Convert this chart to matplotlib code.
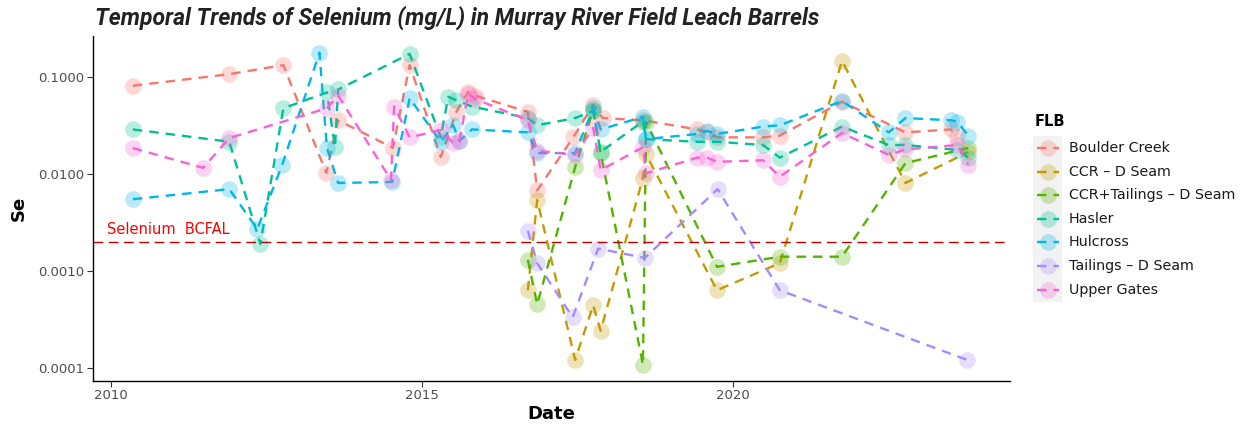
import matplotlib
matplotlib.use("Agg")
import matplotlib.pyplot as plt
from matplotlib.lines import Line2D
from matplotlib.patches import Rectangle
from matplotlib.colors import to_rgba

# --- data (decimal year, Se mg/L) ---
boulder_x = [2010.35, 2011.9, 2012.77, 2013.46, 2013.65, 2014.53, 2014.8, 2015.3, 2015.55, 2015.74, 2015.85,
             2016.7, 2016.85, 2017.43, 2017.75, 2017.9, 2018.55, 2019.42, 2019.58, 2019.74, 2020.48, 2020.75,
             2021.75, 2022.77, 2023.5, 2023.6]
boulder_y = [0.082, 0.108, 0.134, 0.0103, 0.036, 0.0187, 0.134, 0.015, 0.044, 0.071, 0.065,
             0.044, 0.0068, 0.024, 0.052, 0.038, 0.036, 0.029, 0.027, 0.024, 0.024, 0.025,
             0.056, 0.027, 0.029, 0.024]

ccr_x = [2016.7, 2016.85, 2017.46, 2017.75, 2017.87, 2018.55, 2018.6, 2019.74, 2020.75, 2021.75, 2022.77, 2023.78]
ccr_y = [0.00063, 0.0054, 0.00012, 0.00044, 0.00024, 0.0091, 0.016, 0.00063, 0.0012, 0.148, 0.0081, 0.0169]

ccrt_x = [2016.7, 2016.85, 2017.46, 2017.75, 2017.87, 2018.55, 2018.6, 2019.74, 2020.75, 2021.75, 2022.77, 2023.78]
ccrt_y = [0.0013, 0.00045, 0.0118, 0.046, 0.0165, 0.000107, 0.0346, 0.0011, 0.0014, 0.0014, 0.013, 0.0186]

hasler_x = [2010.35, 2011.9, 2012.4, 2012.77, 2013.47, 2013.6, 2013.65, 2014.8, 2015.3, 2015.42, 2015.55,
            2015.8, 2016.7, 2016.85, 2017.46, 2017.75, 2017.87, 2018.55, 2018.6, 2019.42, 2019.74, 2020.48,
            2020.75, 2021.75, 2022.5, 2022.77, 2023.6, 2023.78]
hasler_y = [0.029, 0.0216, 0.0019, 0.048, 0.07, 0.019, 0.075, 0.175, 0.024, 0.063, 0.058,
            0.05, 0.038, 0.032, 0.038, 0.045, 0.017, 0.035, 0.023, 0.0216, 0.0216, 0.02,
            0.0148, 0.031, 0.02, 0.02, 0.0178, 0.0148]

hulcross_x = [2010.35, 2011.9, 2012.35, 2012.75, 2013.35, 2013.47, 2013.65, 2014.52, 2014.8, 2015.3, 2015.5,
              2015.6, 2015.8, 2016.7, 2016.85, 2017.46, 2017.75, 2017.87, 2018.55, 2018.6, 2019.42, 2019.58,
              2019.74, 2020.48, 2020.75, 2021.75, 2022.5, 2022.77, 2023.5, 2023.6, 2023.78]
hulcross_y = [0.0055, 0.0070, 0.0027, 0.0124, 0.18, 0.0187, 0.0081, 0.0083, 0.061, 0.0215, 0.032,
              0.022, 0.029, 0.027, 0.0165, 0.0165, 0.048, 0.029, 0.039, 0.023, 0.026, 0.028,
              0.026, 0.031, 0.032, 0.057, 0.027, 0.038, 0.036, 0.035, 0.025]

tailings_x = [2016.7, 2016.85, 2017.42, 2017.83, 2018.58, 2019.75, 2020.75, 2023.76]
tailings_y = [0.0026, 0.0012, 0.00033, 0.0017, 0.00136, 0.0070, 0.00063, 0.00012]

upper_x = [2010.35, 2011.48, 2011.9, 2013.47, 2013.65, 2014.5, 2014.55, 2014.8, 2015.3, 2015.5, 2015.6,
           2015.74, 2015.85, 2016.7, 2016.85, 2017.46, 2017.75, 2017.87, 2018.55, 2018.6, 2019.42, 2019.58,
           2019.74, 2020.48, 2020.75, 2021.75, 2022.5, 2022.77, 2023.6, 2023.78]
upper_y = [0.0186, 0.0116, 0.0236, 0.048, 0.065, 0.0087, 0.05, 0.024, 0.0285, 0.021, 0.022,
           0.068, 0.06, 0.036, 0.0175, 0.0158, 0.03, 0.011, 0.019, 0.0102, 0.0148, 0.0148,
           0.0134, 0.0139, 0.0094, 0.0266, 0.0158, 0.018, 0.02, 0.0125]

names = ["Boulder Creek", "CCR \u2013 D Seam", "CCR+Tailings \u2013 D Seam", "Hasler",
         "Hulcross", "Tailings \u2013 D Seam", "Upper Gates"]
series = [(boulder_x, boulder_y), (ccr_x, ccr_y), (ccrt_x, ccrt_y), (hasler_x, hasler_y),
          (hulcross_x, hulcross_y), (tailings_x, tailings_y), (upper_x, upper_y)]
colors = ["#F8766D", "#C49A00", "#53B400", "#00C094", "#00B6EB", "#A58AFF", "#FB61D7"]

bcfal = 0.002

W, H = 1251, 424
fig = plt.figure(figsize=(W / 100, H / 100), dpi=100)
ax = fig.add_axes([93 / W, 1 - 381 / H, (1010 - 93) / W, (381 - 36) / H])

dash = (0, (4, 3))
for (xs, ys), c in zip(series, colors):
    ax.plot(xs, ys, color=c, lw=1.7, ls=dash, marker="o", markersize=12,
            markerfacecolor=to_rgba(c, 0.28), markeredgecolor="none")

ax.axhline(bcfal, color="#C00000", lw=1.0, ls=(0, (7, 4)))
ax.text(2009.94, bcfal * 1.12, "Selenium  BCFAL", color="red", fontsize=10.5, va="bottom", ha="left")

ax.set_yscale("log")
ax.set_xlim(2009.71, 2024.45)
ax.set_ylim(7.26e-5, 0.268)
ax.set_yticks([1e-4, 1e-3, 1e-2, 1e-1])
ax.set_yticklabels(["0.0001", "0.0010", "0.0100", "0.1000"])
ax.minorticks_off()
ax.set_xticks([2010, 2015, 2020])
ax.set_xticklabels(["2010", "2015", "2020"])
ax.tick_params(colors="#333333", labelcolor="#4D4D4D", labelsize=9.5, length=4, width=0.8, pad=2)
for s in ["top", "right"]:
    ax.spines[s].set_visible(False)
for s in ["left", "bottom"]:
    ax.spines[s].set_linewidth(1.0)
ax.set_xlabel("Date", fontsize=13, fontweight="bold", labelpad=2)
ax.set_ylabel("Se", fontsize=13, fontweight="bold", labelpad=8)

fig.text(95 / W, 1 - 18 / H, "Temporal Trends of Selenium (mg/L) in Murray River Field Leach Barrels",
         fontsize=16.5, fontweight="bold", style="italic",
         family=["Liberation Sans Narrow", "DejaVu Sans Condensed", "Roboto"],
         color="#222222", va="center", ha="left")

# --- legend, drawn by hand to get the grey key column ---
fig.text(1035 / W, 1 - 121 / H, "FLB", fontsize=10.5, fontweight="bold", va="center", ha="left")
fig.add_artist(Rectangle((1033 / W, 1 - 302 / H), 29 / W, 166 / H, transform=fig.transFigure,
                         facecolor="#F2F2F2", edgecolor="none"))
for i, (name, c) in enumerate(zip(names, colors)):
    yy = 1 - (148 + i * 23.6) / H
    fig.add_artist(Line2D([1037 / W, 1059 / W], [yy, yy], transform=fig.transFigure, color=c, lw=1.7,
                          ls=dash))
    fig.add_artist(Line2D([1048 / W], [yy], transform=fig.transFigure, marker="o", markersize=12,
                          markerfacecolor=to_rgba(c, 0.28), markeredgecolor="none", lw=0))
    fig.text(1069 / W, yy, name, fontsize=10.3, va="center", ha="left", color="#1a1a1a")

fig.savefig("out.png", dpi=100)
